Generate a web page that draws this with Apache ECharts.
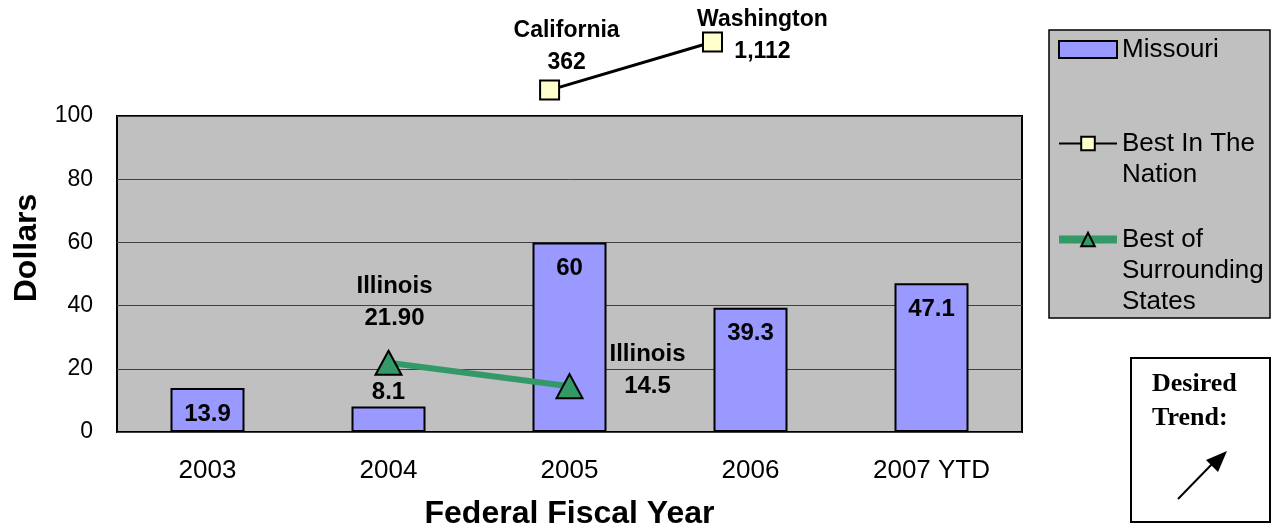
<!DOCTYPE html>
<html>
<head>
<meta charset="utf-8">
<script src="https://cdn.jsdelivr.net/npm/echarts@6/dist/echarts.min.js"></script>
<style>
  html, body { margin: 0; padding: 0; background: #fff; }
  #chart { width: 1276px; height: 529px; }
</style>
</head>
<body>
<div id="chart"></div>
<script>
// 미주리 vs 주변 주/전국 최고치 비교 차트

const categories = ["2003", "2004", "2005", "2006", "2007 YTD"];
const missouri = [13.9, 8.1, 60, 39.3, 47.1];

// 주변 주 최고치 (2004, 2005만 값 있음)
const surrounding = [null, 21.9, 14.5, null, null];
const surroundingState = ["", "Illinois", "Illinois", "", ""];
const surroundingText = ["", "21.90", "14.5", "", ""];

// 전국 최고치: 축 범위를 벗어나 위쪽에 그려진 점 (그림에서 읽은 위치)
const nationPos = [2.39, 3.29];
const nationPlot = [108.2, 123.4];
const nationState = ["California", "Washington"];
const nationText = ["362", "1,112"];

const yTicks = [0, 20, 40, 60, 80, 100];

const FONT = "Liberation Sans, Arial, sans-serif";

const chart = echarts.init(document.getElementById("chart"), null, { renderer: "canvas" });

// 범례 여러 줄 텍스트: 빈 줄을 위에 넣어 아이콘이 첫 줄에 오도록 맞춤
const legendRich = {
  a: { fontFamily: FONT, fontSize: 26, lineHeight: 31, color: "#000" },
  b: { fontFamily: FONT, fontSize: 26, lineHeight: 31, color: "#000" }
};

const legendBase = {
  orient: "vertical",
  left: 1058,
  padding: 0,
  itemWidth: 58,
  itemHeight: 17,
  selectedMode: false,
  textStyle: { fontFamily: FONT, fontSize: 26, color: "#000", lineHeight: 31, rich: legendRich }
};

chart.setOption({
  animation: false,
  backgroundColor: "#fff",
  grid: {
    left: 117, top: 116, right: 254, bottom: 97,
    outerBoundsMode: "none",
    show: true, backgroundColor: "#c0c0c0", borderColor: "#000", borderWidth: 2
  },
  xAxis: [{
    type: "category",
    data: categories,
    axisLine: { show: false },
    axisTick: { show: false },
    axisLabel: { fontFamily: FONT, fontSize: 26, color: "#000", margin: 26 },
    name: "Federal Fiscal Year",
    nameLocation: "middle",
    nameGap: 66,
    nameTextStyle: { fontFamily: FONT, fontSize: 32, fontWeight: "bold", color: "#000" }
  }, {
    type: "value", min: 0, max: 5, show: false
  }],
  yAxis: {
    type: "value",
    min: yTicks[0], max: yTicks[yTicks.length - 1], interval: 20,
    axisLine: { show: false },
    axisTick: { show: false },
    axisLabel: { fontFamily: FONT, fontSize: 23, color: "#000", margin: 24 },
    splitLine: { lineStyle: { color: "#404040", width: 1 } }
  },
  legend: [
    Object.assign({}, legendBase, {
      top: 34, data: [{ name: "Missouri", icon: "rect" }]
    }),
    Object.assign({}, legendBase, {
      top: 97,
      data: [{ name: "Best In The Nation", lineStyle: { width: 2, color: "#000" } }],
      formatter: () => "{b| }\n{a|Best In The}\n{a|Nation}"
    }),
    Object.assign({}, legendBase, {
      top: 162, left: 1055,
      data: [{ name: "Best of Surrounding States", lineStyle: { width: 8, color: "#339966" } }],
      formatter: () => "{b| }\n{b| }\n{a|Best of}\n{a|Surrounding}\n{a|States}"
    })
  ],
  graphic: [
    { type: "rect", z: -10, shape: { x: 1049, y: 30, width: 221, height: 288 },
      style: { fill: "#c0c0c0", stroke: "#000", lineWidth: 1.5 } },
    { type: "text", x: 27, y: 248, rotation: Math.PI / 2,
      style: { text: "Dollars", font: "bold 32px " + FONT, fill: "#000", align: "center", verticalAlign: "middle" } },
    // Desired Trend 박스
    { type: "rect", shape: { x: 1131, y: 358, width: 139, height: 164 },
      style: { fill: "#fff", stroke: "#000", lineWidth: 2 } },
    { type: "text", x: 1152, y: 367,
      style: { text: "Desired\nTrend:", font: "bold 26px Liberation Serif, Times New Roman, serif",
        lineHeight: 34, fill: "#000", verticalAlign: "top" } },
    { type: "line", shape: { x1: 1178, y1: 499, x2: 1214, y2: 462 },
      style: { stroke: "#000", lineWidth: 2 } },
    { type: "polygon", shape: { points: [[1227, 451], [1206, 460], [1218, 472]] },
      style: { fill: "#000" } }
  ],
  series: [
    {
      name: "Missouri",
      type: "bar",
      data: missouri.map((v, i) => ({
        value: v,
        label: i === 1 ? { position: "top", distance: 2 } : {}
      })),
      barWidth: 74,
      itemStyle: { color: "#9999ff", borderColor: "#000", borderWidth: 2 },
      label: {
        show: true, position: "insideTop", distance: 14,
        fontFamily: FONT, fontSize: 24, fontWeight: "bold", color: "#000"
      },
      z: 2
    },
    {
      name: "Best In The Nation",
      type: "line",
      xAxisIndex: 1,
      clip: false,
      data: nationPos.map((x, i) => [x, nationPlot[i]]),
      symbol: "rect",
      symbolSize: 19,
      lineStyle: { color: "#000", width: 3 },
      itemStyle: { color: "#ffffcc", borderColor: "#000", borderWidth: 2 },
      label: {
        show: true, position: "inside",
        fontFamily: FONT, fontSize: 23, fontWeight: "bold", color: "#000", lineHeight: 32,
        formatter: (p) => nationState[p.dataIndex] + "\n" + nationText[p.dataIndex]
      },
      labelLayout: (p) => (p.dataIndex === 0 ? { dx: 17, dy: -43 } : { dx: 50, dy: -6 }),
      z: 5
    },
    {
      name: "Best of Surrounding States",
      type: "line",
      data: surrounding,
      connectNulls: false,
      symbol: "triangle",
      symbolSize: [26, 24],
      lineStyle: { color: "#339966", width: 6 },
      itemStyle: { color: "#339966", borderColor: "#000", borderWidth: 2 },
      label: {
        show: true, position: "inside",
        fontFamily: FONT, fontSize: 24, fontWeight: "bold", color: "#000", lineHeight: 32,
        formatter: (p) => surroundingState[p.dataIndex] + "\n" + surroundingText[p.dataIndex]
      },
      labelLayout: (p) => (p.dataIndex === 1 ? { dx: 6, dy: -60 } : { dx: 78, dy: -16 }),
      z: 5
    }
  ]
});
</script>
</body>
</html>
